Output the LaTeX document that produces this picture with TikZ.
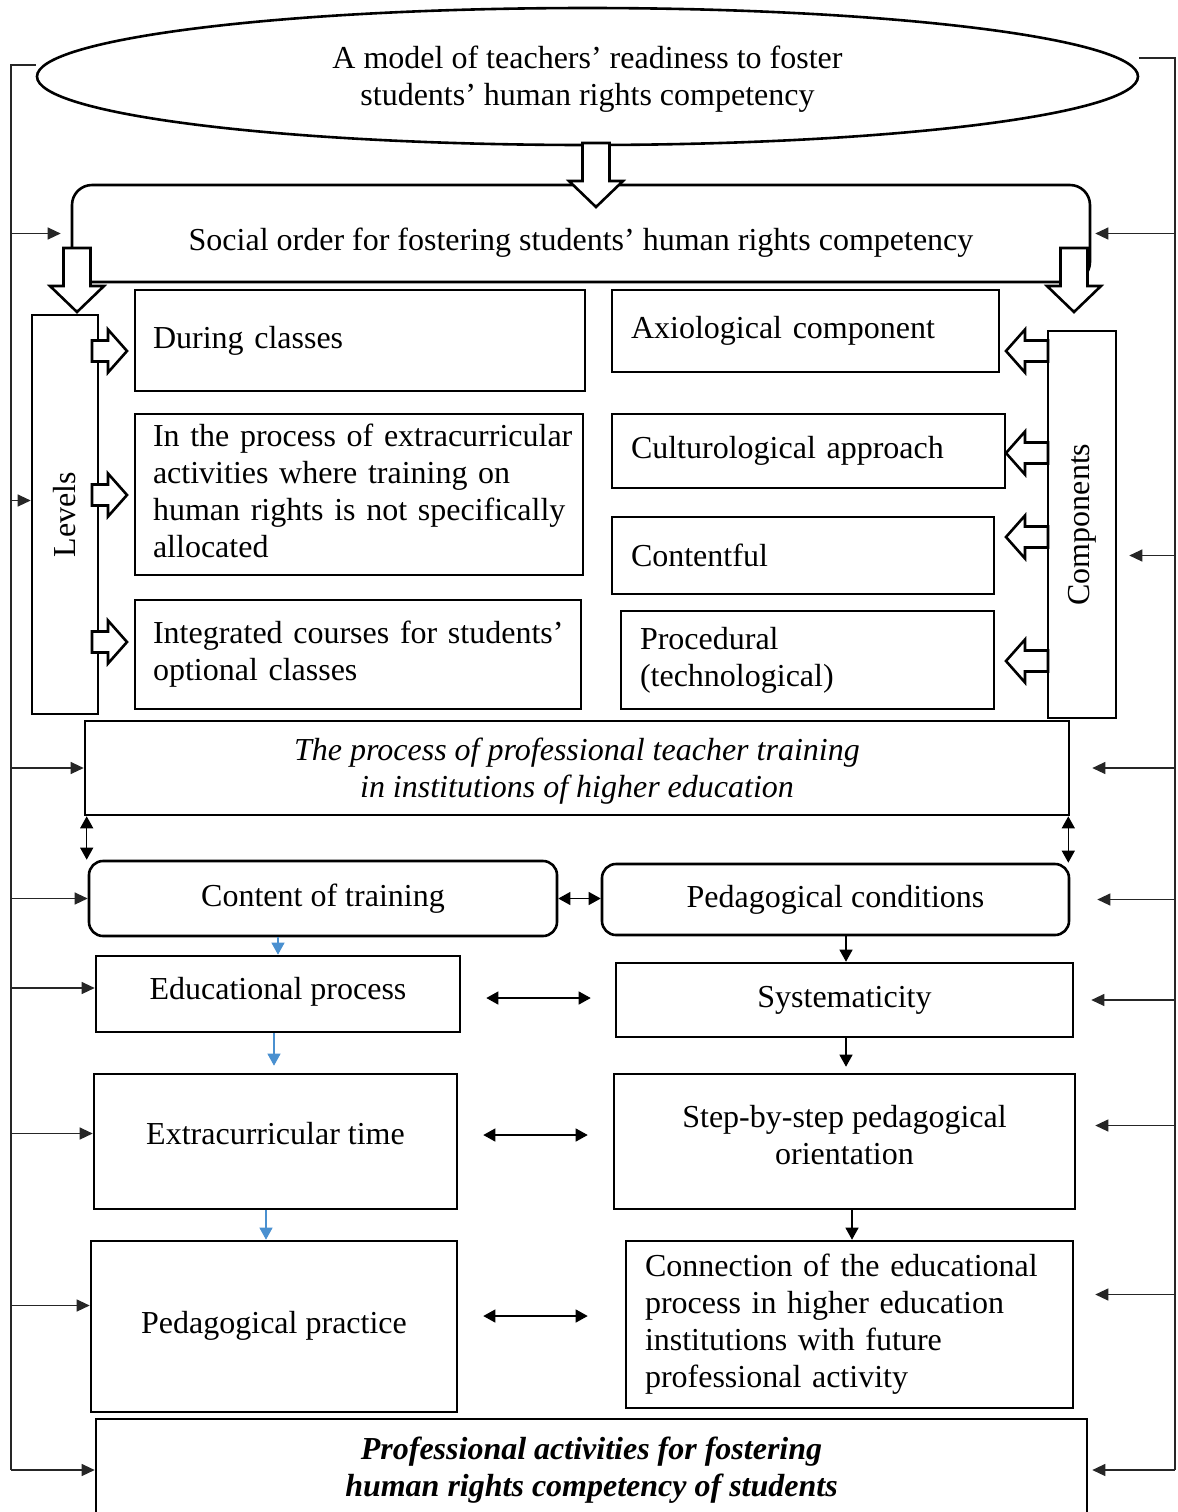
\documentclass[tikz,border=0pt]{standalone}
\usepackage{fontspec}
\setmainfont{Liberation Serif}
\usepackage{graphicx}
\usetikzlibrary{arrows.meta,shapes.geometric,calc}
\definecolor{linkblue}{RGB}{74,144,208}
\newcommand{\diagfont}{\fontsize{16}{18.5}\selectfont}
\tikzset{
	box/.style={
		rectangle,
		draw=black, line width=1.3pt,
		inner sep=0pt,
		align=center,
	},
	roundbox/.style={box, rounded corners=7pt},
	leftbox/.style={box, align=left, inner xsep=9pt},
	feedline/.style={line width=0.6pt, black!85},
	feed/.style={feedline, -{Triangle[length=6.5pt,width=6pt]}},
	link/.style={line width=0.6pt, -{Triangle[length=6pt,width=6.5pt]}},
	bothlink/.style={line width=0.6pt, {Triangle[length=6pt,width=6.5pt]}-{Triangle[length=6pt,width=6.5pt]}},
	bluelink/.style={link, linkblue},
	blockline/.style={draw=black, line width=1.3pt, fill=white},
	% hollow block arrows, pointing along +x, #1 = length
	pics/bigarrow/.style={code={
		\draw[blockline] (0,-13.5) -- (#1-26,-13.5) -- (#1-26,-27) -- (#1,0) -- (#1-26,27) -- (#1-26,13.5) -- (0,13.5) -- cycle;
	}},
	pics/sidearrow/.style={code={
		\draw[blockline] (0,-10.5) -- (#1-19,-10.5) -- (#1-19,-21.5) -- (#1,0) -- (#1-19,21.5) -- (#1-19,10.5) -- (0,10.5) -- cycle;
	}},
}

\begin{document}
\begin{tikzpicture}[x=0.5pt, y=-0.5pt, font=\diagfont]
	\useasboundingbox (0,0) rectangle (1178,1512);
	\clip (0,0) rectangle (1178,1512);
	
	% top of the model
	\node[ellipse, draw=black, line width=1.3pt, minimum width=550.5pt, minimum height=68.5pt, align=center, text height=32pt] (model) at (587.5,76.5)
	{A model of teachers’ readiness to foster\\students’ human rights competency};
	
	\node[roundbox, rounded corners=10pt, minimum width=509pt, minimum height=48.5pt, text height=20pt] (order) at (581,233.5)
	{Social order for fostering students’ human rights competency};
	
	% levels and components columns
	\node[box, minimum width=33pt, minimum height=199.5pt] (levels) at (65,514.5) {\rotatebox{90}{Levels}};
	\node[box, minimum width=34pt, minimum height=193.5pt] (components) at (1082,524.5) {\rotatebox{90}{Components}};
	
	% tabular keeps the lines as they are
	\node[leftbox, text width=207pt, minimum height=50.5pt] (during) at (360,340.5) {During classes};
	\node[leftbox, text width=206pt, minimum height=80.5pt] (outside) at (359,494.5)
	{
		\begin{tabular}{@{}l@{}}
		In the process of extracurricular\\
		activities where training on\\
		human rights is not specifically\\
		allocated
		\end{tabular}
	};
	\node[leftbox, text width=205pt, minimum height=54.5pt] (optional) at (358,654.5)
	{
		\begin{tabular}{@{}l@{}}
		Integrated courses for students’\\
		optional classes
		\end{tabular}
	};
	
	\node[leftbox, inner xsep=9.5pt, text width=174.5pt, minimum height=41pt] (axio) at (805.5,331) {Axiological component};
	\node[leftbox, inner xsep=9.5pt, text width=177.5pt, minimum height=37pt] (culturo) at (808.5,451) {Culturological approach};
	\node[leftbox, inner xsep=9.5pt, text width=172pt, minimum height=38.5pt] (contentful) at (803,555.5) {Contentful};
	\node[leftbox, inner xsep=9.5pt, text width=167.5pt, minimum height=49pt] (proced) at (807.5,660) {Procedural\\(technological)};
	
	% training process
	\node[box, minimum width=492pt, minimum height=47pt, font=\diagfont\itshape, text height=33pt] (training) at (577,768)
	{The process of professional teacher training\\in institutions of higher education};
	
	\node[roundbox, minimum width=234pt, minimum height=37.5pt] (content) at (323,898.5) {Content of training};
	\node[roundbox, minimum width=233.5pt, minimum height=35.5pt] (conditions) at (835.5,899.5) {Pedagogical conditions};
	
	\node[box, minimum width=182pt, minimum height=38pt, text depth=6pt] (edu) at (278,994) {Educational process};
	\node[box, minimum width=228.5pt, minimum height=37pt] (sys) at (844.5,1000) {Systematicity};
	\node[box, minimum width=181.5pt, minimum height=67.5pt, text depth=8pt] (extra) at (275.5,1141.5) {Extracurricular time};
	\node[box, minimum width=230.5pt, minimum height=67.5pt, text depth=7pt] (step) at (844.5,1141.5) {Step-by-step pedagogical\\orientation};
	\node[box, minimum width=183pt, minimum height=85.5pt, text depth=4pt] (practice) at (274,1326.5) {Pedagogical practice};
	\node[leftbox, inner xsep=9.5pt, text width=204.5pt, minimum height=83.5pt] (connect) at (849.5,1324.5)
	{
		\begin{tabular}{@{}l@{}}
		Connection of the educational\\
		process in higher education\\
		institutions with future\\
		professional activity
		\end{tabular}
	};
	
	\node[box, minimum width=495.5pt, minimum height=48.5pt, font=\diagfont\bfseries\itshape, text height=32pt] (prof) at (591.5,1467.5)
	{Professional activities for fostering\\human rights competency of students};
	
	% hollow arrows
	\pic[rotate=-90] at (596,143) {bigarrow=64};
	\pic[rotate=-90] at (77,248) {bigarrow=64};
	\pic[rotate=-90] at (1074,248) {bigarrow=64};
	\foreach \y in {351,495,642}
	\pic at (92,\y) {sidearrow=35};
	\foreach \y in {351,453,537,661}
	\pic[rotate=180] at (1048,\y) {sidearrow=42};
	
	% feedback on the left
	\coordinate (lefttop) at (11,65);
	\coordinate (leftend) at (11,1470);
	\coordinate (levin) at ([yshift=7pt]levels.west);
	\coordinate (eduin) at ([yshift=3pt]edu.west);
	\coordinate (extrain) at ([yshift=4pt]extra.west);
	\coordinate (practin) at ([yshift=10.5pt]practice.west);
	\draw[feedline] (lefttop -| model.west) -- (lefttop) -- (leftend);
	\draw[feed, shorten >=5pt] (lefttop |- order.west) -- (order.west);
	\draw[feed] (lefttop |- levin) -- (levin);
	\draw[feed] (lefttop |- training.west) -- (training.west);
	\draw[feed] (lefttop |- content.west) -- (content.west);
	\draw[feed] (lefttop |- eduin) -- (eduin);
	\draw[feed] (lefttop |- extrain) -- (extrain);
	\draw[feed] (lefttop |- practin) -- (practin);
	\draw[feed] (leftend) -- (leftend -| prof.west);
	
	% feedback on the right
	\coordinate (righttop) at (1175,58);
	\coordinate (rightend) at (1175,1470);
	\coordinate (compin) at ([yshift=-15.5pt]components.east);
	\coordinate (stepin) at ([yshift=8pt]step.east);
	\coordinate (connin) at ([yshift=15pt]connect.east);
	\draw[feedline] ([yshift=9.25pt]model.east) -- (righttop) -- (rightend);
	\draw[feed, shorten >=2pt] (righttop |- order.east) -- (order.east);
	\draw[feed, shorten >=6pt] (righttop |- compin) -- (compin);
	\draw[feed, shorten >=11pt] (righttop |- training.east) -- (training.east);
	\draw[feed, shorten >=13.5pt] (righttop |- conditions.east) -- (conditions.east);
	\draw[feed, shorten >=8.5pt] (righttop |- sys.east) -- (sys.east);
	\draw[feed, shorten >=9.5pt] (righttop |- stepin) -- (stepin);
	\draw[feed, shorten >=10.5pt] (righttop |- connin) -- (connin);
	\draw[feed, shorten >=2pt] (rightend) -- (rightend -| prof.east);
	
	% links between the lower boxes
	\coordinate (trainl) at ([xshift=1.5pt]training.south west);
	\coordinate (trainr) at ([xshift=-1pt]training.south east);
	\draw[bothlink] (trainl) -- (trainl |- content.north);
	\draw[bothlink] (trainr) -- (trainr |- conditions.north);
	\draw[bothlink] (content.east) -- (content.east -| conditions.west);
	
	\coordinate (edumid) at ([yshift=-2pt]edu.east);
	\coordinate (extramid) at ([yshift=3.25pt]extra.east);
	\coordinate (practmid) at ([yshift=5.25pt]practice.east);
	\draw[bothlink, shorten <=12.5pt, shorten >=12pt] (edumid) -- (edumid -| sys.west);
	\draw[bothlink, shorten <=12.5pt, shorten >=12.5pt] (extramid) -- (extramid -| step.west);
	\draw[bothlink, shorten <=12.5pt, shorten >=18.5pt] (practmid) -- (practmid -| connect.west);
	
	\coordinate (condout) at ([xshift=5.25pt]conditions.south);
	\coordinate (sysout) at ([xshift=0.75pt]sys.south);
	\coordinate (stepout) at ([xshift=3.75pt]step.south);
	\draw[link] (condout) -- (condout |- sys.north);
	\draw[link, shorten >=3pt] (sysout) -- (sysout |- step.north);
	\draw[link] (stepout) -- (stepout |- connect.north);
	
	\coordinate (eduout) at ([xshift=-2pt]edu.south);
	\coordinate (extraout) at ([xshift=-4.75pt]extra.south);
	\draw[bluelink] (edu.north |- content.south) -- (edu.north);
	\draw[bluelink, shorten >=3.5pt] (eduout) -- (eduout |- extra.north);
	\draw[bluelink] (extraout) -- (extraout |- practice.north);
	
\end{tikzpicture}
\end{document}
